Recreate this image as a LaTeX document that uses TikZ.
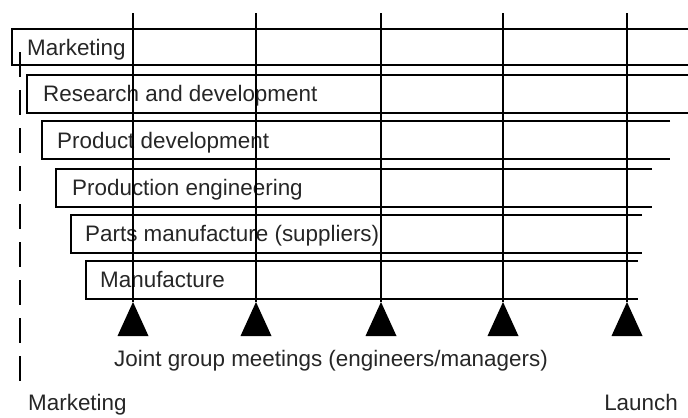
\documentclass[tikz,border=0pt]{standalone}
\usepackage{fontspec}
\setmainfont{Liberation Sans}
\usepackage{tikz}
\usetikzlibrary{positioning}
\tikzset{
  phase/.style={
    line width=1.2bp,
    draw=black
    },
  label/.style={
    anchor=base west,
    inner sep=0pt,
    text=black!85,
    font=\fontsize{22.5}{27}\selectfont
    },
  meet/.style={line width=1.3bp},
  marker/.style={fill=black},
  lead/.style={
    line width=1.3bp,
    dash pattern=on 25bp off 13bp
    }
}
\begin{document}
\begin{tikzpicture}[x=1bp,y=-1bp]
\useasboundingbox (0,0) rectangle (688,417);
% phases, open to the right
\draw[phase] (688,29) -| (12,65) -- (688,65);
\draw[phase] (688,75) -| (27,113) -- (688,113);
\draw[phase] (670,121) -| (42,159) -- (670,159);
\draw[phase] (652,169) -| (56,207) -- (652,207);
\draw[phase] (642,215) -| (71,253) -- (642,253);
\draw[phase] (638,261) -| (86,299) -- (638,299);
\node (mkt) [label] at (27,55) {Marketing};
\node (rnd) [label] at (43,101) {Research and development};
\node (pdev) [label] at (57,148) {Product development};
\node (peng) [label] at (72,195) {Production engineering};
\node (parts) [label] at (85,241) {Parts manufacture (suppliers)};
\node (manu) [label] at (100,287) {Manufacture};
% joint meetings
\coordinate (top1) at (133,13);
\coordinate (top2) at (256,13);
\coordinate (top3) at (381,13);
\coordinate (top4) at (503,13);
\coordinate (top5) at (627,13);
\coordinate (tri1) at (133,302);
\coordinate (tri2) at (256,302);
\coordinate (tri3) at (381,302);
\coordinate (tri4) at (503,302);
\coordinate (tri5) at (627,302);
\draw[meet] (top1) -- (tri1);
\draw[meet] (top2) -- (tri2);
\draw[meet] (top3) -- (tri3);
\draw[meet] (top4) -- (tri4);
\draw[meet] (top5) -- (tri5);
\fill[marker] (tri1) -- ++(-15.5,34) -- ++(31,0) -- cycle;
\fill[marker] (tri2) -- ++(-15.5,34) -- ++(31,0) -- cycle;
\fill[marker] (tri3) -- ++(-15.5,34) -- ++(31,0) -- cycle;
\fill[marker] (tri4) -- ++(-15.5,34) -- ++(31,0) -- cycle;
\fill[marker] (tri5) -- ++(-15.5,34) -- ++(31,0) -- cycle;
\node (joint) [label] at (114,366) {Joint group meetings (engineers/managers)};
% marketing to launch
\coordinate (lstart) at (20,52);
\coordinate (lend) at (20,386);
\draw[lead] (lstart) -- (lend);
\node (begin) [label] at (28,410) {Marketing};
\node (launch) [label, anchor=base east] at (678,410) {Launch};
\end{tikzpicture}
\end{document}
